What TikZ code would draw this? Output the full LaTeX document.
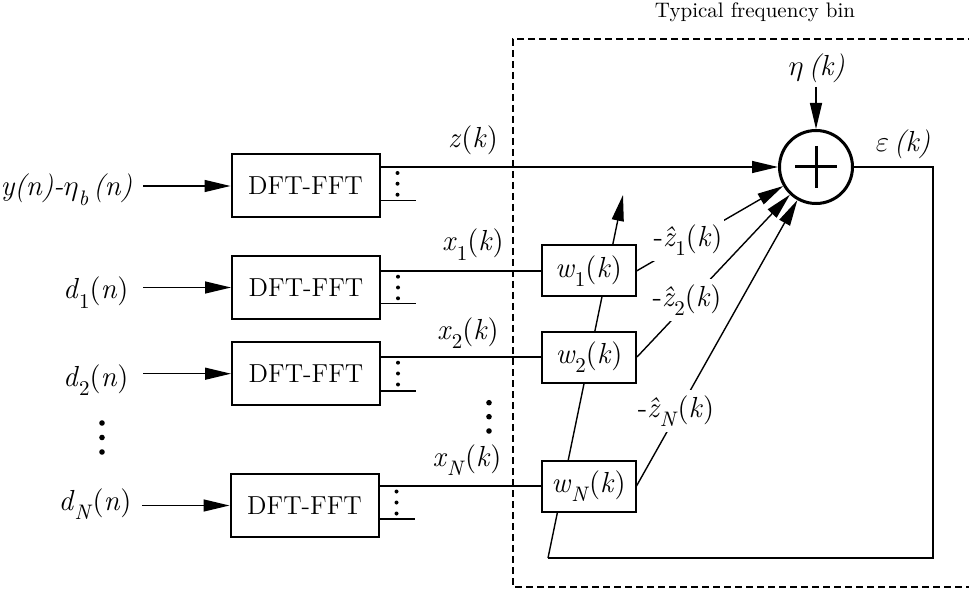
\documentclass[tikz,border=0pt]{standalone}
\usepackage{fix-cm}
\usepackage{fontspec}
\usetikzlibrary{arrows.meta,calc}

% lowered index set in a smaller size
\newcommand\lo[1]{\raisebox{-0.33em}{\fontsize{10.5}{11}\selectfont #1}}

\begin{document}
\begin{tikzpicture}[x=0.5pt,y=-0.5pt,
  line width=0.7pt,
  arr/.style={-{Triangle[length=13pt,width=6pt]}},
  lab/.style={font=\fontsize{14.5}{17}\selectfont, inner sep=0pt},
  dft/.style={draw, line width=1pt, minimum width=74pt, minimum height=31.5pt,
              inner sep=0pt, font=\fontsize{13}{15}\selectfont},
  wbox/.style={draw, fill=white, line width=1pt, minimum width=47pt,
               minimum height=25.5pt, inner sep=0pt, font=\fontsize{14.5}{17}\selectfont},
  zlab/.style={lab, fill=white, inner xsep=1pt, inner ysep=2.5pt},
  dot/.style={radius=1pt},
  bigdot/.style={radius=1.4pt}
]
\useasboundingbox (0,0) rectangle (969,593);

% frame of one frequency bin (its right side lies beyond the page)
\draw[line width=0.6pt, dash pattern=on 3.5pt off 2pt]
  (975,39) -- (513,39) -- (513,587) -- (975,587);
\node[lab, font=\fontsize{10.5}{12}\selectfont, anchor=base] (bin) at (755,18) {Typical frequency bin};

% summing junction
\node[circle, draw, line width=1.5pt, minimum size=36.5pt, inner sep=0pt] (sum) at (816,167) {};
\draw[line width=1.5pt] ($(sum.center)+(-21,0)$) -- ($(sum.center)+(21,0)$);
\draw[line width=1.5pt] ($(sum.center)+(0,-21)$) -- ($(sum.center)+(0,21)$);

% noise input and error output
\node[lab, anchor=base, inner sep=1.5pt] (eta) at (816.7,76) {$\eta$\,\textit{(k)}};
\draw[arr] (eta.south -| sum.north) -- (sum.north);
\node[lab, anchor=base] (eps) at (903,152) {$\varepsilon$\,\textit{(k)}};

% error feedback to the adaptive weights
\coordinate (fbR) at (933,558);
\coordinate (fbL) at (548,558);
\coordinate (tip) at (623,195);
\draw (sum.east) -| (fbR) -- (fbL);
\draw[arr] (fbL) -- (tip);

% transform blocks
\node[dft] (b0) at (305.5,186) {DFT-FFT};
\node[dft] (b1) at (306,287.5) {DFT-FFT};
\node[dft] (b2) at (306,373.7) {DFT-FFT};
\node[dft] (bN) at (304.5,505.5) {DFT-FFT};

% adaptive weights
\node[wbox] (w1) at (588.5,271) {\textit{w}\lo{1}(\textit{k})};
\node[wbox] (w2) at (589,357) {\textit{w}\lo{2}(\textit{k})};
\node[wbox] (wN) at (588.5,486) {\textit{w}\lo{\textit{N}}(\textit{k})};

% input signals
\node[lab, anchor=base east, inner xsep=5pt] (l0) at (143,196) {\textit{y(n)-}$\eta$\lo{\textit{b}}\,\textit{(n)}};
\node[lab, anchor=base east, inner xsep=7pt] (l1) at (143,299) {\textit{d}\lo{1}(\textit{n})};
\node[lab, anchor=base east, inner xsep=7pt] (l2) at (143,386) {\textit{d}\lo{2}(\textit{n})};
\node[lab, anchor=base east, inner xsep=5pt] (lN) at (142,510) {\textit{d}\lo{\textit{N}}(\textit{n})};
\draw[arr] (b0.west -| l0.east) -- (b0.west);
\draw[arr] (b1.west -| l1.east) -- (b1.west);
\draw[arr] (b2.west -| l2.east) -- (b2.west);
\draw[arr] (bN.west -| lN.east) -- (bN.west);
\foreach \yy in {423,437.5,452} \fill (102,\yy) circle[bigdot];

% transform outputs: first bin used, the rest indicated by dots
\draw[arr] (sum.west -| b0.east) -- (sum.west);
\draw (w1.west -| b1.east) -- (w1.west);
\draw (w2.west -| b2.east) -- (w2.west);
\draw (wN.west -| bN.east) -- (wN.west);
\draw ($(b0.east)+(0,14.7)$) -- ++(35,0);
\draw ($(b1.east)+(0,16.2)$) -- ++(35,0);
\draw ($(b2.east)+(0,17.3)$) -- ++(35,0);
\draw ($(bN.east)+(0,13.5)$) -- ++(35,0);
\foreach \dy in {-13,-2.3,8.7} \fill ($(b0.east)+(17,\dy)$) circle[dot];
\foreach \dy in {-10.8,0,10.8} \fill ($(b1.east)+(17,\dy)$) circle[dot];
\foreach \dy in {-11,-0.2,10.8} \fill ($(b2.east)+(17,\dy)$) circle[dot];
\foreach \dy in {-14,-3,8} \fill ($(bN.east)+(17,\dy)$) circle[dot];
\foreach \yy in {402.7,416.7,431} \fill (489,\yy) circle[bigdot];

\node[lab, anchor=base] (zk) at (473,148) {\textit{z}(\textit{k})};
\node[lab, anchor=base] (x1) at (473,251) {\textit{x}\lo{1}(\textit{k})};
\node[lab, anchor=base] (x2) at (468,339) {\textit{x}\lo{2}(\textit{k})};
\node[lab, anchor=base] (xN) at (467,466) {\textit{x}\lo{\textit{N}}(\textit{k})};

% weighted estimates into the junction
\draw[arr] (w1.east) -- (sum);
\draw[arr] (w2.east) -- (sum);
\draw[arr] (wN.east) -- (sum);
\node[zlab] (z1) at (688,240) {-\textit{\^z}\lo{1}(\textit{k})};
\node[zlab] (z2) at (687,300) {-\textit{\^z}\lo{2}(\textit{k})};
\node[zlab] (zN) at (676,411) {-\textit{\^z}\lo{\textit{N}}(\textit{k})};
\end{tikzpicture}
\end{document}
